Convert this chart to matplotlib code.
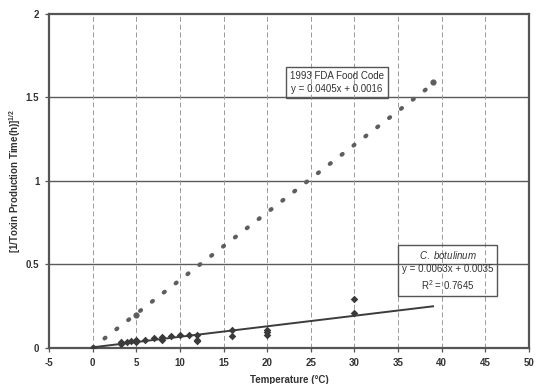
import numpy as np
import matplotlib
matplotlib.use("Agg")
import matplotlib.pyplot as plt

plt.rcParams['font.family'] = ['Liberation Sans', 'DejaVu Sans']
plt.rcParams['mathtext.fontset'] = 'custom'
plt.rcParams['mathtext.rm'] = 'Liberation Sans'
plt.rcParams['mathtext.it'] = 'Liberation Sans:italic'
plt.rcParams['mathtext.bf'] = 'Liberation Sans:bold'

# C. botulinum observations: temperature (°C) vs sqrt of toxin production rate
temp_c = [0, 3.3, 3.3, 3.9, 4.4, 5, 5, 6, 7, 8, 8, 9, 10, 11, 12, 12, 12,
          16, 16, 20, 20, 20, 30, 30]
rate_c = [0.0, 0.025, 0.035, 0.038, 0.040, 0.045, 0.035, 0.050, 0.057, 0.063,
          0.045, 0.070, 0.080, 0.080, 0.080, 0.050, 0.040, 0.110, 0.070,
          0.110, 0.095, 0.080, 0.290, 0.210]

# 1993 FDA Food Code reference points
temp_fda = [5, 39]
rate_fda = [0.20, 1.59]

# Fitted lines: slope, intercept, range
fda_fit = (0.0405, 0.0016)
bot_fit = (0.0063, 0.0035)
fit_range = (0, 39)

x_ticks = [-5, 0, 5, 10, 15, 20, 25, 30, 35, 40, 45, 50]
y_ticks = [0, 0.5, 1, 1.5, 2]
y_tick_labels = ['0', '0.5', '1', '1.5', '2']

fig = plt.figure(figsize=(5.37, 3.84), dpi=100)
ax = fig.add_axes([0.0912, 0.094, 0.894, 0.8695])

ax.set_xlim(-5, 50)
ax.set_ylim(0, 2)

# grid: solid horizontal, dashed vertical
for yv in y_ticks[1:-1]:
    ax.axhline(yv, color='#5a5a5a', lw=1.0, zorder=1)
for xv in x_ticks[1:-1]:
    ax.axvline(xv, color='#9a9a9a', lw=0.7, ls=(0, (5, 3)), zorder=1)

xs = np.linspace(*fit_range, 200)
ax.plot(xs, fda_fit[0] * xs + fda_fit[1], color='#5e5e5e', lw=3.0,
        ls=(0, (0.3, 3.3)), dash_capstyle='round', zorder=3)
ax.plot(xs, bot_fit[0] * xs + bot_fit[1], color='#3c3c3c', lw=1.4, zorder=3)

ax.scatter(temp_c, rate_c, marker='D', s=15, color='#3a3a3a', zorder=4,
           linewidths=0)
ax.scatter(temp_fda, rate_fda, marker='o', s=20, color='#5e5e5e', zorder=4,
           linewidths=0)

ax.set_xticks(x_ticks)
ax.set_xticklabels([str(v) for v in x_ticks])
ax.set_yticks(y_ticks)
ax.set_yticklabels(y_tick_labels)
ax.tick_params(axis='both', labelsize=7, length=3, width=0.9,
               color='#555555', labelcolor='#333333', pad=4)
for lbl in ax.get_xticklabels() + ax.get_yticklabels():
    lbl.set_fontweight('bold')

for sp in ax.spines.values():
    sp.set_color('#555555')
    sp.set_linewidth(1.6)

ax.set_xlabel('Temperature (°C)', fontsize=7, fontweight='bold',
              color='#333333', labelpad=5)
ax.set_ylabel(r'[1/Toxin Production Time(h)]$^{\mathbf{1/2}}$', fontsize=7,
              fontweight='bold', color='#333333')
ax.yaxis.set_label_coords(-0.054, 0.5)

box = dict(boxstyle='square,pad=0.4', facecolor='none', edgecolor='#555555',
           lw=1.0)
ax.text(28.0, 1.59, '1993 FDA Food Code\ny = 0.0405x + 0.0016', fontsize=7,
        color='#333333', ha='center', va='center', linespacing=1.4,
        bbox=box, zorder=5)
ax.text(40.7, 0.465, r'$\mathit{C.\ botulinum}$' + '\ny = 0.0063x + 0.0035\nR$^2$ = 0.7645',
        fontsize=7, color='#333333', ha='center', va='center', linespacing=1.35,
        bbox=box, zorder=5)

fig.savefig('out.png', dpi=100)
